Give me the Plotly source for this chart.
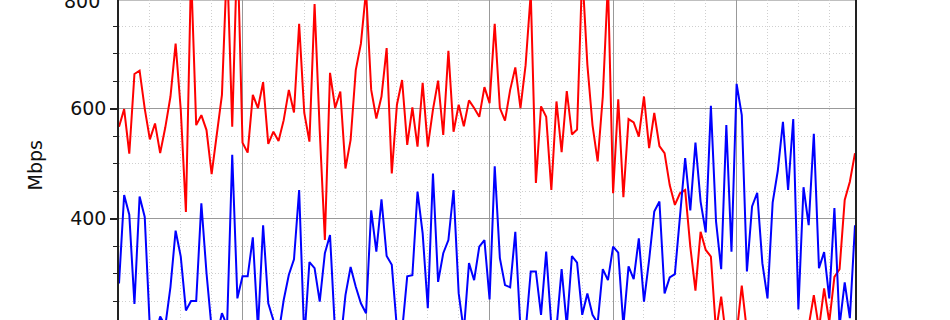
import plotly.graph_objects as go

hours = list(range(144))

download_mbps = [
    567, 599, 518, 663, 669, 600, 544, 573, 519, 566, 622, 718, 598, 412, 850, 570,
    588, 561, 481, 555, 625, 870, 567, 900, 538, 520, 625, 601, 648, 536, 558, 541,
    579, 634, 593, 754, 592, 540, 790, 560, 361, 665, 601, 631, 491, 543, 670, 718,
    815, 634, 582, 622, 710, 482, 607, 652, 534, 602, 531, 647, 531, 598, 651, 552,
    705, 558, 607, 568, 615, 601, 585, 639, 610, 754, 601, 578, 634, 675, 601, 679,
    810, 465, 604, 585, 452, 613, 521, 632, 553, 562, 850, 680, 570, 504, 622, 830,
    446, 617, 439, 581, 575, 549, 622, 528, 592, 532, 519, 461, 425, 446, 452, 349,
    269, 376, 343, 331, 195, 258, 180, 170, 190, 278, 195, 160, 175, 150, 185, 170,
    160, 190, 175, 165, 190, 180, 205, 261, 200, 273, 212, 294, 308, 434, 467, 519,
]

upload_mbps = [
    282, 443, 407, 245, 440, 403, 200, 185, 222, 205, 276, 378, 331, 233, 250, 250,
    428, 301, 200, 185, 228, 205, 516, 255, 295, 295, 366, 200, 388, 246, 215, 190,
    252, 298, 326, 452, 180, 321, 310, 249, 337, 370, 190, 170, 261, 312, 276, 246,
    228, 415, 340, 435, 332, 316, 200, 195, 295, 297, 449, 373, 237, 482, 285, 337,
    361, 452, 264, 195, 319, 288, 349, 361, 253, 495, 328, 279, 275, 376, 200, 195,
    304, 304, 225, 340, 205, 200, 308, 205, 332, 320, 225, 264, 225, 210, 308, 288,
    349, 338, 205, 313, 290, 364, 249, 325, 413, 431, 264, 293, 299, 410, 510, 415,
    538, 431, 375, 605, 395, 308, 570, 340, 645, 588, 304, 422, 447, 319, 255, 429,
    487, 576, 452, 581, 235, 457, 388, 554, 310, 339, 255, 419, 205, 284, 219, 388,
]

y_ticks = [400, 600, 800]
y_label = "Mbps"

W, H = 950, 320
L, R, T, B = 119, 95, 0, 0
FONT = "DejaVu Sans"

y_top = 797.45
y_bottom = y_top - 320 / 0.55

fig = go.Figure()
fig.add_trace(go.Scatter(x=hours, y=download_mbps, mode="lines",
                         line=dict(color="#ff0000", width=2), showlegend=False))
fig.add_trace(go.Scatter(x=hours, y=upload_mbps, mode="lines",
                         line=dict(color="#0000ff", width=2), showlegend=False))

fig.update_layout(
    width=W, height=H,
    margin=dict(l=L, r=R, t=T, b=B, pad=0),
    paper_bgcolor="white", plot_bgcolor="white",
    font=dict(family=FONT, size=19, color="black"),
    showlegend=False,
)

fig.update_xaxes(
    range=[0, 143], tickmode="linear", tick0=0, dtick=24,
    showgrid=True, gridcolor="#999999", gridwidth=1.4,
    showticklabels=False, ticks="", showline=False, zeroline=False,
    minor=dict(tickmode="linear", tick0=0, dtick=6, showgrid=True,
               gridcolor="#cfcfcf", gridwidth=1, griddash="1px,2.2px", ticks=""),
)

fig.update_yaxes(
    range=[y_bottom, y_top], tickmode="array", tickvals=y_ticks,
    ticktext=[str(v) for v in y_ticks],
    showgrid=True, gridcolor="#999999", gridwidth=1.4,
    ticks="outside", ticklen=7, tickwidth=1.5, tickcolor="#222222",
    tickfont=dict(family=FONT, size=19, color="#111111"),
    showline=True, linecolor="#222222", linewidth=1.6, mirror=True,
    zeroline=False,
    minor=dict(tickmode="linear", tick0=0, dtick=50, showgrid=True,
               gridcolor="#cfcfcf", gridwidth=1, griddash="1px,2.2px",
               ticks="outside", ticklen=4, tickwidth=1, tickcolor="#222222"),
)

# top gridline at 800 (just at the cut edge) and its partially visible label
fig.add_shape(type="line", xref="paper", yref="paper", x0=0, x1=1, y0=1, y1=1,
              line=dict(color="#aaaaaa", width=1.4), layer="below")
fig.add_annotation(text="800", xref="paper", yref="paper", x=0, y=1 + 0.7 / H,
                   xanchor="right", yanchor="middle", xshift=-17.3, yshift=-2.1,
                   showarrow=False, font=dict(family=FONT, size=19, color="#111111"))

fig.add_annotation(text=y_label, xref="paper", yref="paper",
                   x=(34.5 - L) / (W - L - R), y=1 - 166 / H,
                   xanchor="center", yanchor="middle", textangle=-90,
                   showarrow=False, font=dict(family=FONT, size=19, color="#111111"))

fig.write_html("out.html")
